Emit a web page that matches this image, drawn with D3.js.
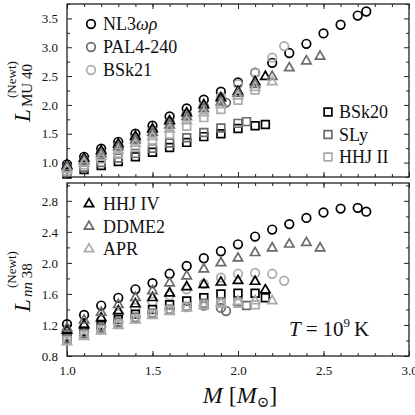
<!DOCTYPE html>
<html>
<head>
<meta charset="utf-8">
<script src="https://cdn.jsdelivr.net/npm/d3@7.9.0/dist/d3.min.js"></script>
<style>
  body { margin: 0; background: #fff; }
  svg { display: block; }
  text { font-family: "Liberation Serif", "DejaVu Serif", serif; fill: #111; }
</style>
</head>
<body>
<svg id="chart" width="415" height="415"></svg>
<script>
// equations of state, in legend order
const eosLabels = ["NL3ωρ", "PAL4-240", "BSk21", "BSk20", "SLy", "HHJ II", "HHJ IV", "DDME2", "APR"];

// stellar masses (M_sun) of each sequence
const massNL3 = [1.0, 1.1, 1.2, 1.3, 1.4, 1.5, 1.6, 1.7, 1.8, 1.9, 2.0, 2.1, 2.2, 2.3, 2.4, 2.5, 2.6, 2.7, 2.75];
const massPAL4 = [1.0, 1.1, 1.2, 1.3, 1.4, 1.5, 1.6, 1.7, 1.8, 1.9, 1.93];
const massBSk21 = [1.0, 1.1, 1.2, 1.3, 1.4, 1.5, 1.6, 1.7, 1.8, 1.9, 2.0, 2.1, 2.2, 2.27];
const massBSk20 = [1.0, 1.1, 1.2, 1.3, 1.4, 1.5, 1.6, 1.7, 1.8, 1.9, 2.0, 2.1, 2.16];
const massSLy = [1.0, 1.1, 1.2, 1.3, 1.4, 1.5, 1.6, 1.7, 1.8, 1.9, 2.0, 2.05];
const massHHJ2 = [1.0, 1.1, 1.2, 1.3, 1.4, 1.5, 1.6, 1.7, 1.8, 1.9, 2.0, 2.1];
const massHHJ4 = [1.0, 1.1, 1.2, 1.3, 1.4, 1.5, 1.6, 1.7, 1.8, 1.9, 2.0, 2.1, 2.16];
const massDDME2 = [1.0, 1.1, 1.2, 1.3, 1.4, 1.5, 1.6, 1.7, 1.8, 1.9, 2.0, 2.1, 2.2, 2.3, 2.4, 2.48];
const massAPR = [1.0, 1.1, 1.2, 1.3, 1.4, 1.5, 1.6, 1.7, 1.8, 1.9, 2.0, 2.1, 2.2];

// L^(Newt)_MU 40 (top panel)
const muNL3 = [0.97, 1.10, 1.24, 1.36, 1.50, 1.64, 1.80, 1.94, 2.09, 2.23, 2.39, 2.56, 2.73, 2.90, 3.06, 3.24, 3.39, 3.55, 3.62];
const muPAL4 = [0.93, 1.05, 1.18, 1.30, 1.43, 1.56, 1.70, 1.84, 1.98, 2.10, 2.04];
const muBSk21 = [0.90, 1.02, 1.14, 1.26, 1.38, 1.52, 1.66, 1.81, 1.96, 2.14, 2.36, 2.56, 2.82, 3.02];
const muBSk20 = [0.80, 0.88, 0.95, 1.02, 1.10, 1.18, 1.26, 1.35, 1.45, 1.50, 1.59, 1.64, 1.66];
const muSLy = [0.83, 0.92, 1.00, 1.08, 1.16, 1.25, 1.34, 1.43, 1.52, 1.60, 1.68, 1.71];
const muHHJ2 = [0.86, 0.96, 1.06, 1.15, 1.26, 1.37, 1.49, 1.63, 1.78, 1.92, 2.08, 2.26];
const muHHJ4 = [0.95, 1.07, 1.20, 1.32, 1.45, 1.58, 1.72, 1.86, 2.00, 2.12, 2.23, 2.40, 2.49];
const muDDME2 = [0.92, 1.03, 1.15, 1.27, 1.39, 1.52, 1.65, 1.79, 1.93, 2.05, 2.20, 2.35, 2.49, 2.64, 2.76, 2.84];
const muAPR = [0.88, 0.99, 1.10, 1.21, 1.33, 1.45, 1.58, 1.72, 1.86, 2.00, 2.15, 2.30, 2.40];

// L^(Newt)_nn 38 (bottom panel)
const nnNL3 = [1.21, 1.33, 1.45, 1.55, 1.66, 1.74, 1.86, 1.96, 2.06, 2.15, 2.24, 2.34, 2.43, 2.50, 2.58, 2.65, 2.70, 2.71, 2.66];
const nnPAL4 = [1.04, 1.11, 1.18, 1.24, 1.30, 1.35, 1.40, 1.43, 1.45, 1.42, 1.38];
const nnBSk21 = [1.10, 1.18, 1.26, 1.34, 1.42, 1.50, 1.58, 1.66, 1.73, 1.81, 1.86, 1.87, 1.86, 1.77];
const nnBSk20 = [1.05, 1.12, 1.20, 1.27, 1.34, 1.40, 1.46, 1.51, 1.55, 1.60, 1.61, 1.61, 1.55];
const nnSLy = [1.02, 1.09, 1.16, 1.23, 1.29, 1.35, 1.40, 1.44, 1.48, 1.50, 1.50, 1.45];
const nnHHJ2 = [1.00, 1.07, 1.14, 1.21, 1.28, 1.34, 1.39, 1.43, 1.46, 1.48, 1.48, 1.46];
const nnHHJ4 = [1.13, 1.20, 1.29, 1.38, 1.47, 1.55, 1.61, 1.69, 1.72, 1.75, 1.77, 1.76, 1.65];
const nnDDME2 = [1.16, 1.26, 1.36, 1.46, 1.55, 1.64, 1.74, 1.83, 1.92, 2.00, 2.06, 2.13, 2.19, 2.24, 2.26, 2.19];
const nnAPR = [0.98, 1.05, 1.12, 1.19, 1.26, 1.32, 1.37, 1.42, 1.45, 1.48, 1.50, 1.51, 1.51];

// ticks
const xMajor = [1.0, 1.5, 2.0, 2.5, 3.0];
const xMinor = d3.range(10, 31).map((d) => d / 10);
const topMajor = [1.0, 1.5, 2.0, 2.5, 3.0, 3.5];
const topMinor = [0.75, 1.25, 1.75, 2.25, 2.75, 3.25, 3.75];
const botMajor = [0.8, 1.2, 1.6, 2.0, 2.4, 2.8];
const botMinor = [1.0, 1.4, 1.8, 2.2, 2.6, 3.0];

const masses = [massNL3, massPAL4, massBSk21, massBSk20, massSLy, massHHJ2, massHHJ4, massDDME2, massAPR];
const muValues = [muNL3, muPAL4, muBSk21, muBSk20, muSLy, muHHJ2, muHHJ4, muDDME2, muAPR];
const nnValues = [nnNL3, nnPAL4, nnBSk21, nnBSk20, nnSLy, nnHHJ2, nnHHJ4, nnDDME2, nnAPR];

const shapes = ["circle", "circle", "circle", "square", "square", "square", "triangle", "triangle", "triangle"];
const greys = ["#000000", "#6a6a6a", "#ababab"];
const colorOf = (i) => greys[i % 3];

const svg = d3.select("#chart");
const xLeft = 67, xRight = 409;
const x = d3.scaleLinear().domain([1.0, 3.0]).range([xLeft, xRight]);
const yTop = d3.scaleLinear().domain([0.75, 3.75]).range([177, 4]);
const yBot = d3.scaleLinear().domain([0.8, 3.03]).range([356, 183]);

function marker(g, shape, cx, cy, color) {
  if (shape === "circle") {
    return g.append("circle")
      .attr("cx", cx).attr("cy", cy).attr("r", 4.3)
      .attr("fill", "none").attr("stroke", color).attr("stroke-width", 1.7);
  }
  const sym = shape === "square" ? d3.symbol(d3.symbolSquare, 60) : d3.symbol(d3.symbolTriangle, 38);
  return g.append("path")
    .attr("d", sym())
    .attr("transform", `translate(${cx},${cy})`)
    .attr("fill", "none").attr("stroke", color).attr("stroke-width", 1.7);
}

function drawPanel(y, major, minor, values, showXLabels) {
  const [yb, yt] = y.range();
  const g = svg.append("g");

  const tickStyle = (sel) => {
    sel.select(".domain").remove();
    sel.selectAll(".tick line").attr("stroke", "#222").attr("stroke-width", 1);
    sel.selectAll(".tick text").attr("font-family", "Liberation Serif").attr("font-size", 13).attr("fill", "#111");
  };

  // inward ticks on all four sides
  g.append("g").attr("transform", `translate(0,${yb})`)
    .call(d3.axisBottom(x).tickValues(xMajor).tickSize(-5).tickPadding(10).tickFormat(showXLabels ? d3.format(".1f") : () => ""))
    .call(tickStyle);
  g.append("g").attr("transform", `translate(0,${yb})`)
    .call(d3.axisBottom(x).tickValues(xMinor).tickSize(-3).tickFormat(() => ""))
    .call(tickStyle);
  g.append("g").attr("transform", `translate(0,${yt})`)
    .call(d3.axisTop(x).tickValues(xMajor).tickSize(-5).tickFormat(() => ""))
    .call(tickStyle);
  g.append("g").attr("transform", `translate(0,${yt})`)
    .call(d3.axisTop(x).tickValues(xMinor).tickSize(-3).tickFormat(() => ""))
    .call(tickStyle);
  g.append("g").attr("transform", `translate(${xLeft},0)`)
    .call(d3.axisLeft(y).tickValues(major).tickSize(-5).tickPadding(9).tickFormat(d3.format(".1f")))
    .call(tickStyle);
  g.append("g").attr("transform", `translate(${xLeft},0)`)
    .call(d3.axisLeft(y).tickValues(minor).tickSize(-3).tickFormat(() => ""))
    .call(tickStyle);
  g.append("g").attr("transform", `translate(${xRight},0)`)
    .call(d3.axisRight(y).tickValues(major).tickSize(-5).tickFormat(() => ""))
    .call(tickStyle);
  g.append("g").attr("transform", `translate(${xRight},0)`)
    .call(d3.axisRight(y).tickValues(minor).tickSize(-3).tickFormat(() => ""))
    .call(tickStyle);

  g.append("rect")
    .attr("x", xLeft).attr("y", yt)
    .attr("width", xRight - xLeft).attr("height", yb - yt)
    .attr("fill", "none").attr("stroke", "#222").attr("stroke-width", 1.3);

  // the data: circles, then squares, then triangles
  const marks = g.append("g");
  values.forEach((vals, i) => {
    vals.forEach((v, k) => {
      marker(marks, shapes[i], x(masses[i][k]), y(v), colorOf(i));
    });
  });
  return g;
}

drawPanel(yTop, topMajor, topMinor, muValues, false);
drawPanel(yBot, botMajor, botMinor, nnValues, true);

// legends
function legendEntry(i, mx, tx, cy) {
  const g = svg.append("g");
  marker(g, shapes[i], mx, cy, colorOf(i));
  const t = g.append("text").attr("x", tx).attr("y", cy + 6).attr("font-size", 18);
  const label = eosLabels[i];
  if (label.endsWith("ωρ")) {
    t.append("tspan").text(label.slice(0, -2));
    t.append("tspan").attr("font-style", "italic").text("ωρ");
  } else {
    t.text(label);
  }
}
[0, 1, 2].forEach((i, k) => legendEntry(i, 91, 103, 24 + k * 23));
[3, 4, 5].forEach((i, k) => legendEntry(i, 328, 339, 112 + k * 22.5));
[6, 7, 8].forEach((i, k) => legendEntry(i, 89, 103, 204 + k * 22.5));

// y-axis titles
function yTitle(xBase, yStart, sub, subItalicPart) {
  const g = svg.append("g").attr("transform", `translate(${xBase},${yStart}) rotate(-90)`);
  g.append("text").attr("x", 0).attr("y", 0).attr("font-size", 23).attr("font-style", "italic").text("L");
  g.append("text").attr("x", 24).attr("y", -14).attr("font-size", 13).text("(Newt)");
  const s = g.append("text").attr("x", 15).attr("y", 2).attr("font-size", 15);
  if (subItalicPart) {
    s.append("tspan").attr("font-style", "italic").text(subItalicPart);
    s.append("tspan").text(" " + sub);
  } else {
    s.text(sub);
  }
}
yTitle(30, 122, "MU 40", null);
yTitle(30, 312, "38", "nn");

// x-axis title
const xt = svg.append("text").attr("x", 240).attr("y", 403).attr("text-anchor", "middle").attr("font-size", 24);
xt.append("tspan").attr("font-style", "italic").text("M");
xt.append("tspan").text("  [");
xt.append("tspan").attr("font-style", "italic").text("M");
xt.append("tspan").attr("font-size", 15).attr("dy", 4).text("⊙");
xt.append("tspan").attr("dy", -4).text("]");

// temperature note
const tn = svg.append("text").attr("x", 289).attr("y", 336).attr("font-size", 21);
tn.append("tspan").attr("font-style", "italic").text("T");
tn.append("tspan").attr("dx", 5).text("=");
tn.append("tspan").attr("dx", 5).text("10");
tn.append("tspan").attr("font-size", 13).attr("dy", -9).text("9");
tn.append("tspan").attr("dy", 9).attr("dx", 4).text("K");
</script>
</body>
</html>
